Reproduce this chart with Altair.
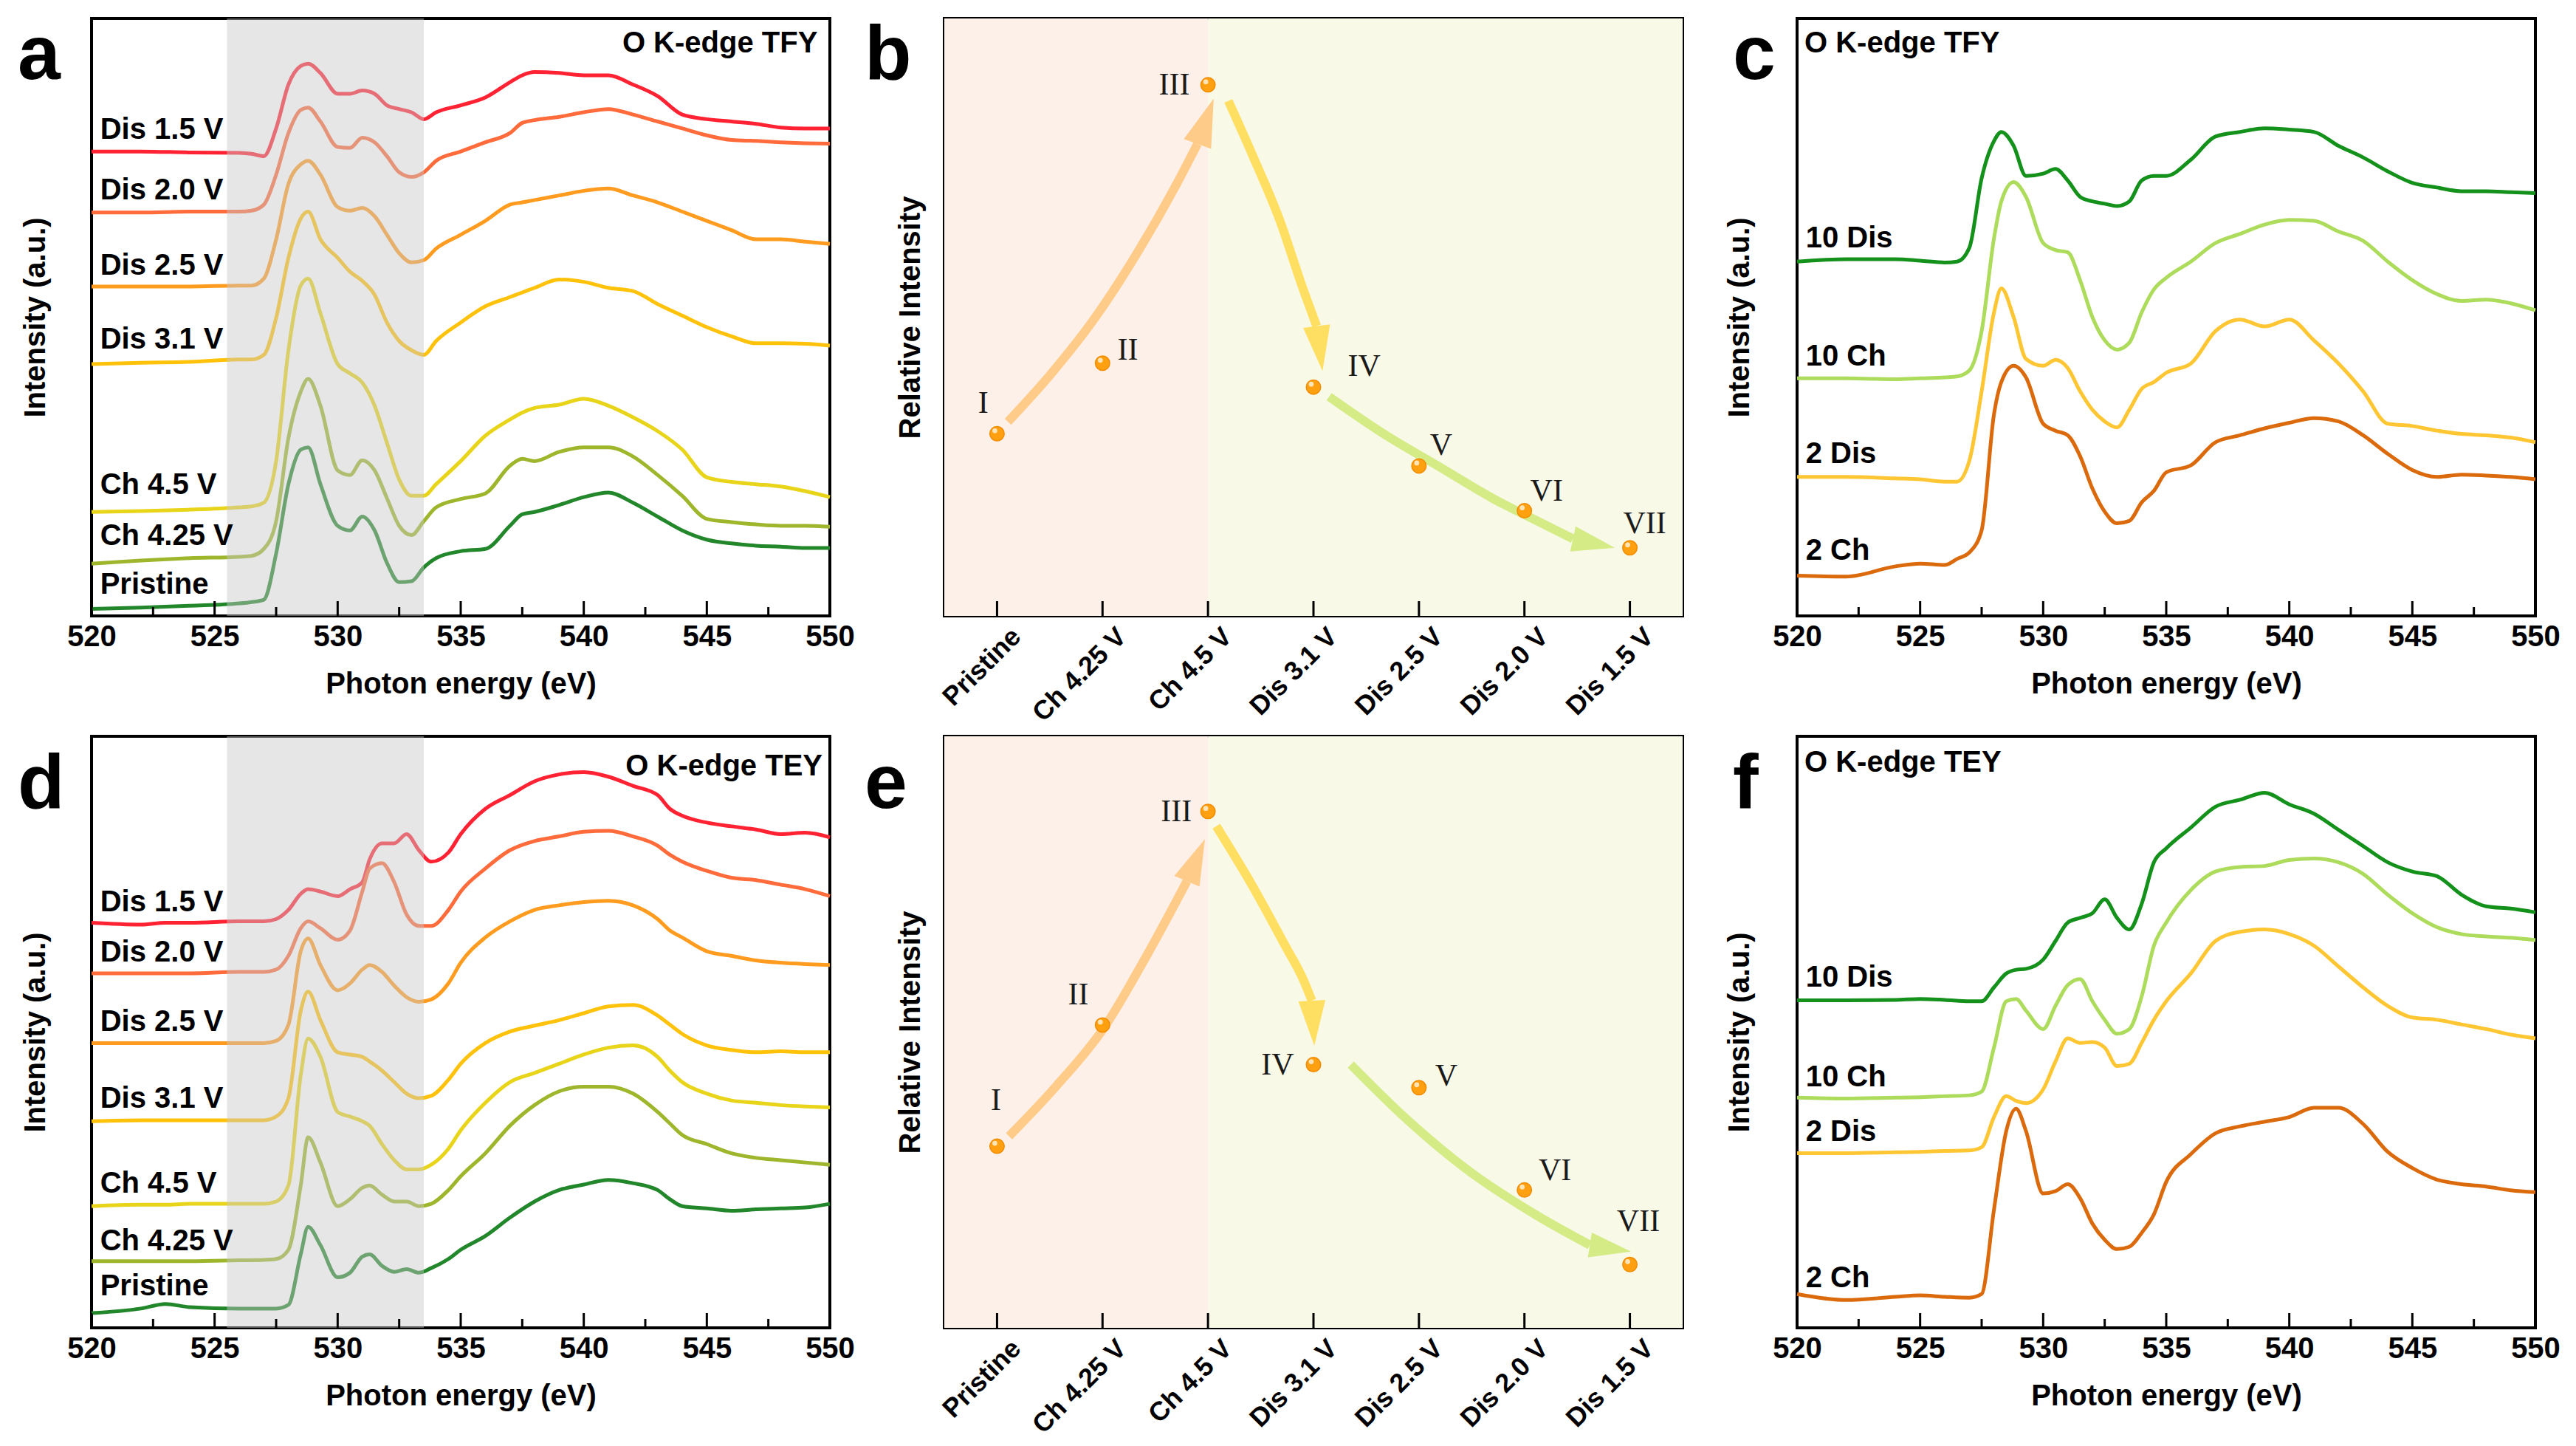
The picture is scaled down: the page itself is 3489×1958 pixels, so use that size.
import math
import altair as alt
import pandas as pd

FONT = "Liberation Sans"
SERIF = "Liberation Serif"
PW = 1000
H_TOP = 809
H_BOT = 801

MAJOR_TICKS = [520, 525, 530, 535, 540, 545, 550]
MINOR_TICKS = [522.5, 527.5, 532.5, 537.5, 542.5, 547.5]
BAND = [525.5, 533.5]

# ---------------- panel a : O K-edge TFY ----------------
E_A = [520, 522, 524, 526, 526.5, 527, 527.5, 528, 528.5, 528.8, 529.3, 530, 530.5, 531, 531.5,
       532, 532.5, 533, 533.5, 534, 535, 536, 537, 537.5, 538, 539, 540, 541, 542, 543, 544,
       545, 546, 547, 548, 549, 550]
A_DIS15 = [1005, 1005, 1003, 1002, 1000, 995, 1055, 1150, 1190, 1195, 1175, 1130, 1130, 1137, 1130,
           1105, 1097, 1090, 1075, 1090, 1105, 1122, 1155, 1170, 1177, 1175, 1170, 1170, 1150, 1125,
           1085, 1075, 1070, 1065, 1057, 1055, 1055]
A_DIS20 = [873, 873, 875, 875, 877, 890, 955, 1045, 1095, 1100, 1070, 1015, 1013, 1035, 1025,
           995, 960, 950, 960, 985, 1005, 1025, 1045, 1067, 1073, 1080, 1090, 1097, 1085, 1070,
           1055, 1040, 1030, 1028, 1025, 1023, 1022]
A_DIS25 = [713, 713, 713, 715, 715, 730, 815, 935, 977, 985, 955, 885, 877, 883, 865,
           825, 785, 765, 770, 795, 825, 855, 890, 895, 900, 910, 920, 925, 910, 895,
           875, 855, 835, 815, 815, 810, 805]
A_DIS31 = [545, 548, 550, 555, 555, 565, 645, 775, 860, 875, 815, 775, 745, 725, 695,
           635, 595, 575, 565, 595, 635, 670, 690, 700, 710, 728, 723, 710, 703, 675,
           650, 625, 605, 590, 590, 589, 585]
A_CH45 = [225, 227, 230, 235, 237, 245, 335, 575, 715, 730, 655, 545, 525, 505, 455,
          375, 295, 260, 260, 285, 335, 390, 425, 440, 450, 457, 470, 455, 430, 400,
          360, 300, 290, 285, 280, 270, 257]
A_CH425 = [113, 120, 125, 128, 130, 145, 205, 385, 485, 513, 455, 315, 305, 337, 315,
           255, 195, 175, 205, 235, 253, 265, 325, 340, 335, 355, 365, 365, 345, 305,
           260, 210, 203, 198, 195, 195, 193]
A_PRISTINE = [15, 18, 22, 27, 30, 35, 135, 285, 360, 365, 285, 195, 185, 215, 185,
              115, 73, 75, 105, 125, 140, 145, 195, 220, 225, 240, 257, 267, 245, 215,
              185, 165, 157, 152, 150, 147, 147]
STATE_NAMES = ["Dis 1.5 V", "Dis 2.0 V", "Dis 2.5 V", "Dis 3.1 V", "Ch 4.5 V", "Ch 4.25 V", "Pristine"]
STATE_COLORS = ["#FF2233", "#FF6B3A", "#FF9C1F", "#FFC20A", "#E8D418", "#9DB62C", "#22862A"]
A_LABEL_Y = [1052, 920, 757, 597, 283, 173, 67]

# ---------------- panel c : O K-edge TFY cycles ----------------
E_C = [520, 522, 524, 525, 526, 526.5, 527, 527.5, 528, 528.3, 528.8, 529.3, 530, 530.5, 531,
       531.5, 532, 532.5, 533, 533.5, 534, 534.5, 535, 536, 537, 538, 539, 540, 541, 542,
       543, 544, 545, 546, 547, 548, 549, 550]
C_10DIS = [765, 770, 770, 767, 763, 765, 795, 945, 1025, 1045, 1015, 950, 955, 965, 940,
           905, 895, 890, 885, 895, 940, 950, 950, 985, 1035, 1045, 1053, 1050, 1045, 1015,
           990, 960, 935, 925, 917, 917, 915, 913]
C_10CH = [513, 513, 511, 513, 515, 517, 530, 615, 815, 895, 937, 905, 805, 790, 785,
          725, 645, 595, 575, 590, 655, 705, 730, 765, 805, 825, 845, 855, 853, 830,
          810, 765, 725, 695, 680, 683, 675, 660]
C_2DIS = [300, 300, 297, 295, 290, 290, 335, 485, 655, 707, 645, 555, 540, 553, 535,
          485, 445, 420, 407, 445, 490, 505, 525, 545, 615, 640, 625, 640, 595, 545,
          485, 415, 410, 400, 393, 390, 385, 375]
C_2CH = [87, 85, 107, 113, 110, 123, 137, 185, 435, 505, 540, 515, 415, 400, 390,
         345, 275, 225, 200, 205, 245, 270, 310, 325, 375, 390, 405, 417, 427, 420,
         390, 350, 315, 300, 305, 303, 300, 295]
CYCLE_NAMES = ["10 Dis", "10 Ch", "2 Dis", "2 Ch"]
CYCLE_COLORS = ["#13911B", "#ADDC5C", "#FFC634", "#DB6A0C"]
C_LABEL_Y = [815, 560, 350, 140]

# ---------------- panel d : O K-edge TEY ----------------
E_D = [520, 522, 523, 524, 526, 527, 527.5, 528, 528.5, 528.8, 529.3, 530, 530.5, 531, 531.3,
       531.8, 532.3, 532.8, 533.3, 533.8, 534.5, 535, 536, 537, 538, 539, 540, 541, 542, 543,
       543.5, 544, 545, 546, 547, 548, 549, 550]
D_DIS15 = [882, 878, 882, 882, 885, 885, 890, 910, 945, 955, 950, 940, 955, 970, 1020,
           1055, 1055, 1075, 1040, 1015, 1035, 1075, 1130, 1160, 1190, 1205, 1210, 1200, 1180, 1160,
           1130, 1115, 1100, 1092, 1085, 1075, 1078, 1068]
D_DIS20 = [772, 772, 772, 772, 775, 775, 780, 810, 870, 885, 870, 845, 865, 950, 1000,
           1012, 970, 900, 875, 875, 910, 950, 1000, 1040, 1060, 1070, 1080, 1082, 1070, 1050,
           1030, 1015, 995, 980, 975, 965, 955, 940]
D_DIS25 = [620, 620, 620, 620, 620, 620, 625, 660, 820, 848, 790, 735, 750, 780, 790,
           775, 745, 720, 710, 715, 750, 795, 850, 885, 910, 920, 927, 930, 920, 890,
           865, 850, 820, 810, 800, 795, 792, 790]
D_DIS31 = [450, 452, 452, 452, 452, 452, 460, 500, 690, 732, 670, 600, 595, 590, 580,
           560, 535, 510, 500, 505, 540, 575, 620, 645, 658, 670, 685, 700, 703, 680,
           660, 640, 615, 605, 600, 602, 600, 600]
D_CH45 = [265, 268, 268, 270, 270, 270, 275, 310, 550, 630, 590, 470, 460, 450, 440,
          400, 365, 345, 345, 355, 390, 430, 490, 535, 555, 575, 595, 610, 615, 590,
          560, 535, 510, 495, 490, 485, 482, 480]
D_CH425 = [145, 145, 145, 145, 147, 148, 150, 170, 310, 415, 360, 265, 280, 305, 310,
           290, 275, 275, 265, 270, 300, 330, 380, 440, 485, 515, 525, 525, 510, 470,
           445, 420, 400, 380, 370, 365, 360, 355]
D_PRISTINE = [32, 42, 52, 45, 42, 42, 42, 50, 160, 220, 180, 110, 120, 155, 160,
              135, 122, 128, 120, 130, 150, 170, 200, 240, 275, 300, 312, 322, 315, 300,
              280, 265, 260, 255, 258, 260, 262, 270]
D_LABEL_Y = [927, 817, 665, 498, 313, 188, 90]

# ---------------- panel f : O K-edge TEY cycles ----------------
E_F = [520, 522, 524, 525, 526, 527, 527.5, 528, 528.5, 528.9, 529.3, 530, 530.5, 531, 531.5,
       532, 532.5, 533, 533.5, 534, 534.5, 535, 536, 537, 538, 539, 540, 541, 542, 543,
       544, 545, 546, 547, 548, 549, 550]
F_10DIS = [707, 707, 708, 710, 708, 705, 705, 735, 765, 773, 775, 795, 835, 875, 885,
           895, 925, 885, 860, 915, 1005, 1035, 1080, 1125, 1140, 1155, 1130, 1110, 1075, 1040,
           1005, 985, 975, 935, 910, 905, 897]
F_10CH = [497, 495, 497, 498, 500, 502, 510, 605, 705, 710, 685, 645, 695, 740, 753,
          705, 665, 635, 645, 715, 825, 875, 945, 985, 995, 997, 1010, 1013, 1005, 980,
          935, 895, 865, 850, 845, 842, 837]
F_2DIS = [377, 377, 379, 380, 382, 383, 390, 455, 500, 490, 485, 515, 575, 625, 615,
          617, 605, 565, 570, 615, 665, 705, 765, 835, 855, 860, 850, 825, 780, 735,
          695, 670, 665, 655, 645, 633, 625]
F_2CH = [73, 60, 67, 70, 67, 65, 73, 255, 425, 473, 425, 290, 295, 310, 280,
         225, 190, 170, 175, 205, 245, 315, 375, 420, 435, 445, 455, 475, 475, 440,
         380, 345, 320, 310, 305, 297, 293]
F_LABEL_Y = [755, 540, 423, 107]

# ---------------- panels b / e : relative intensity ----------------
CATS = ["Pristine", "Ch 4.25 V", "Ch 4.5 V", "Dis 3.1 V", "Dis 2.5 V", "Dis 2.0 V", "Dis 1.5 V"]
ROMAN = ["I", "II", "III", "IV", "V", "VI", "VII"]
B_REL = [0.305, 0.423, 0.889, 0.383, 0.251, 0.176, 0.114]
B_LBL_X = [-0.13, 1.24, 1.68, 3.48, 4.21, 5.21, 6.14]
B_LBL_Y = [0.356, 0.445, 0.889, 0.418, 0.286, 0.209, 0.155]
E_REL = [0.307, 0.512, 0.873, 0.445, 0.406, 0.233, 0.107]
E_LBL_X = [-0.01, 0.77, 1.70, 2.66, 4.26, 5.29, 6.08]
E_LBL_Y = [0.385, 0.5625, 0.873, 0.445, 0.426, 0.266, 0.18]

ARROW_COLORS = ["#FFCB88", "#FFDF62", "#D4EB86"]
B_ARROW1 = [(0.103, 0.325), (0.516, 0.406), (0.929, 0.499), (1.341, 0.611), (1.703, 0.723), (1.90, 0.79), (2.054, 0.866)]
B_ARROW2 = [(2.193, 0.862), (2.425, 0.770), (2.683, 0.661), (2.890, 0.553), (3.03, 0.485), (3.086, 0.410)]
B_ARROW3 = [(3.148, 0.367), (3.664, 0.305), (4.180, 0.251), (4.696, 0.197), (5.212, 0.151), (5.46, 0.129), (5.857, 0.114)]
E_ARROW1 = [(0.114, 0.324), (0.568, 0.410), (1.017, 0.508), (1.393, 0.621), (1.80, 0.755), (1.971, 0.826)]
E_ARROW2 = [(2.079, 0.848), (2.425, 0.746), (2.735, 0.645), (2.90, 0.59), (2.985, 0.553), (3.008, 0.477)]
E_ARROW3 = [(3.354, 0.445), (3.870, 0.355), (4.438, 0.270), (5.108, 0.191), (5.62, 0.140), (6.011, 0.129)]

PINK = "#FDF0E8"
GREENBG = "#F8F9E7"
HEAD = "M-0.6,2L0,0L0.6,2Z"


def letter_layer(letter, x_px, y_px):
    return alt.Chart(pd.DataFrame({"t": [letter]})).mark_text(
        align="left", baseline="alphabetic", font=FONT, fontSize=104, fontWeight="bold", color="black"
    ).encode(x=alt.value(x_px), y=alt.value(y_px), text="t:N")


def spectra(E, series, names, colors, label_y, ymax, height, tag, tag_x, tag_y, tag_align,
            letter, letter_x, letter_y, band, ytp):
    long = pd.DataFrame([{"E": e, "I": v, "s": n, "col": c}
                         for n, c, vals in zip(names, colors, series) for e, v in zip(E, vals)])
    xs = alt.Scale(domain=[520, 550], nice=False, zero=False)
    ys = alt.Scale(domain=[0, ymax], nice=False, zero=False)
    x_enc = alt.X("E:Q", scale=xs, axis=alt.Axis(values=MAJOR_TICKS, format="d",
                                                 title="Photon energy (eV)", labelPadding=8,
                                                 titlePadding=24, labelFlush=False, labelOverlap=False))
    y_enc = alt.Y("I:Q", scale=ys, axis=alt.Axis(title="Intensity (a.u.)", labels=False, titlePadding=ytp))
    layers = [
        alt.Chart(long).mark_line(strokeWidth=5, interpolate="monotone").encode(
            x=x_enc, y=y_enc, detail="s:N", color=alt.Color("col:N", scale=None))
    ]
    if band:
        layers.append(alt.Chart(pd.DataFrame({"E": [BAND[0]], "E2": [BAND[1]]})).mark_rect(
            color="#c8c8c8", opacity=0.45).encode(x="E:Q", x2="E2:Q", y=alt.value(0), y2=alt.value(height)))
    layers.append(alt.Chart(pd.DataFrame({"E": MAJOR_TICKS})).mark_rule(color="black", strokeWidth=3).encode(
        x="E:Q", y=alt.value(height), y2=alt.value(height - 20)))
    layers.append(alt.Chart(pd.DataFrame({"E": MINOR_TICKS})).mark_rule(color="black", strokeWidth=3).encode(
        x="E:Q", y=alt.value(height), y2=alt.value(height - 12)))
    lx = 520.35
    layers.append(alt.Chart(pd.DataFrame({"E": [lx] * len(names), "I": label_y, "t": names})).mark_text(
        align="left", baseline="middle", font=FONT, fontSize=40, fontWeight="bold", color="black"
    ).encode(x="E:Q", y="I:Q", text="t:N"))
    layers.append(alt.Chart(pd.DataFrame({"E": [tag_x], "I": [tag_y], "t": [tag]})).mark_text(
        align=tag_align, baseline="middle", font=FONT, fontSize=40, fontWeight="bold", color="black"
    ).encode(x="E:Q", y="I:Q", text="t:N"))
    layers.append(letter_layer(letter, letter_x, letter_y))
    return alt.layer(*layers).properties(width=PW, height=height)


def relative(vals, lbl_x, lbl_y, arrows, height, letter, letter_x, letter_y):
    xs = alt.Scale(domain=[-0.5, 6.5], nice=False, zero=False)
    ys = alt.Scale(domain=[0, 1], nice=False, zero=False)
    label_expr = "[" + ",".join("'%s'" % c for c in CATS) + "][datum.value]"
    x_enc = alt.X("x:Q", scale=xs, axis=alt.Axis(
        values=list(range(7)), labelExpr=label_expr, labelAngle=315, labelAlign="right",
        labelBaseline="middle", labelFontSize=36, labelPadding=22, labelOffset=26,
        labelFlush=False, labelOverlap=False, title=None))
    y_enc = alt.Y("y:Q", scale=ys, axis=alt.Axis(title="Relative Intensity", labels=False, titlePadding=26))

    bg = alt.Chart(pd.DataFrame({"x": [-0.5, 2.0], "x2": [2.0, 6.5], "c": [PINK, GREENBG]})).mark_rect().encode(
        x=x_enc, x2="x2:Q", y=alt.value(0), y2=alt.value(height), color=alt.Color("c:N", scale=None))
    ticks = alt.Chart(pd.DataFrame({"x": list(range(7))})).mark_rule(color="black", strokeWidth=3).encode(
        x="x:Q", y=alt.value(height), y2=alt.value(height - 20))

    px_x = PW / 7.0
    px_y = float(height)
    line_rows, head_rows = [], []
    for k, (col, pts) in enumerate(zip(ARROW_COLORS, arrows)):
        body, tip = pts[:-1], pts[-1]
        for o, (x, y) in enumerate(body):
            line_rows.append({"a": k, "o": o, "x": x, "y": y, "c": col})
        bx, by = body[-1]
        dx = (tip[0] - bx) * px_x
        dy = (tip[1] - by) * px_y
        ang = math.degrees(math.atan2(dx, dy)) % 360
        head_rows.append({"x": tip[0], "y": tip[1], "ang": ang, "sz": dx * dx + dy * dy, "c": col})
    arrows_l = alt.Chart(pd.DataFrame(line_rows)).mark_line(
        strokeWidth=12, interpolate="monotone", strokeCap="butt").encode(
        x="x:Q", y=y_enc, detail="a:N", order="o:Q", color=alt.Color("c:N", scale=None))
    heads = alt.Chart(pd.DataFrame(head_rows)).mark_point(shape=HEAD, filled=True, opacity=1, strokeWidth=0).encode(
        x="x:Q", y="y:Q", angle=alt.Angle("ang:Q", scale=None), size=alt.Size("sz:Q", scale=None),
        color=alt.Color("c:N", scale=None))
    pts = pd.DataFrame({"x": list(range(7)), "y": vals})
    dots = alt.Chart(pts).mark_circle(size=380, color="#FFA010", opacity=1, stroke="#F28C00", strokeWidth=1.5).encode(
        x="x:Q", y="y:Q")
    shine = alt.Chart(pts).mark_circle(size=45, color="#FFF1D6", opacity=0.85, xOffset=-3, yOffset=-4).encode(
        x="x:Q", y="y:Q")
    roman = alt.Chart(pd.DataFrame({"x": lbl_x, "y": lbl_y, "t": ROMAN})).mark_text(
        font=SERIF, fontSize=42, color="#1a1a1a", align="center", baseline="middle").encode(
        x="x:Q", y="y:Q", text="t:N")
    return alt.layer(bg, ticks, arrows_l, heads, dots, shine, roman,
                     letter_layer(letter, letter_x, letter_y)).properties(width=PW, height=height)


pa = spectra(E_A, [A_DIS15, A_DIS20, A_DIS25, A_DIS31, A_CH45, A_CH425, A_PRISTINE],
             STATE_NAMES, STATE_COLORS, A_LABEL_Y, 1293, H_TOP, "O K-edge TFY", 549.5, 1238, "right",
             "a", -100, 82, True, 56)
pb = relative(B_REL, B_LBL_X, B_LBL_Y, [B_ARROW1, B_ARROW2, B_ARROW3], H_TOP, "b", -108, 82)
pc = spectra(E_C, [C_10DIS, C_10CH, C_2DIS, C_2CH], CYCLE_NAMES, CYCLE_COLORS, C_LABEL_Y, 1290, H_TOP,
             "O K-edge TFY", 520.3, 1235, "left", "c", -87, 82, False, 58)
pd_ = spectra(E_D, [D_DIS15, D_DIS20, D_DIS25, D_DIS31, D_CH45, D_CH425, D_PRISTINE],
              STATE_NAMES, STATE_COLORS, D_LABEL_Y, 1288, H_BOT, "O K-edge TEY", 549.7, 1222, "right",
              "d", -100, 97, True, 56)
pe = relative(E_REL, E_LBL_X, E_LBL_Y, [E_ARROW1, E_ARROW2, E_ARROW3], H_BOT, "e", -108, 97)
pf = spectra(E_F, [F_10DIS, F_10CH, F_2DIS, F_2CH], CYCLE_NAMES, CYCLE_COLORS, F_LABEL_Y, 1277, H_BOT,
             "O K-edge TEY", 520.3, 1220, "left", "f", -87, 97, False, 58)

chart = alt.concat(pa, pb, pc, pd_, pe, pf, columns=3, spacing={"row": 163, "column": 155},
                   bounds="flush").properties(
    padding={"left": 14, "top": 14, "right": 0, "bottom": 2}
).configure_view(
    stroke="black", strokeWidth=4
).configure_axis(
    labelFont=FONT, titleFont=FONT, labelFontSize=40, titleFontSize=40,
    labelFontWeight="bold", titleFontWeight="bold", labelColor="black", titleColor="black",
    grid=False, ticks=False, domain=False
)

chart.save("out.html", embed_options={"renderer": "svg", "actions": False})
